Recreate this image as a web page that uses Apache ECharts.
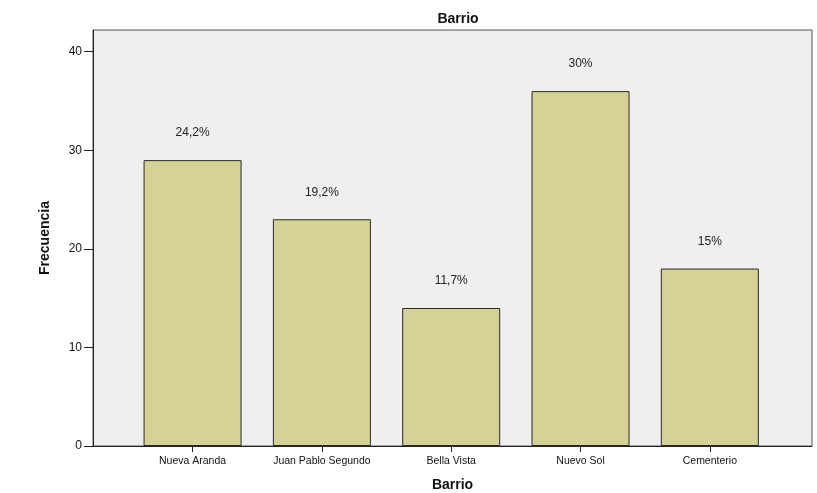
<!DOCTYPE html>
<html>
<head>
<meta charset="utf-8">
<script src="https://cdn.jsdelivr.net/npm/echarts@6/dist/echarts.min.js"></script>
<style>
  html, body { margin: 0; padding: 0; background: #ffffff; }
  #chart { width: 817px; height: 493px; }
</style>
</head>
<body>
<div id="chart"></div>
<script>
// Frequency of respondents per neighbourhood
const categories = ['Nueva Aranda', 'Juan Pablo Segundo', 'Bella Vista', 'Nuevo Sol', 'Cementerio'];
const frecuencias = [29, 23, 14, 36, 18];
const yTicks = [0, 10, 20, 30, 40];
const xTicks = [0, 1, 2, 3, 4];

const total = frecuencias.reduce((a, b) => a + b, 0);
function pct(v) {
  let s = (v / total * 100).toFixed(1);
  if (s.endsWith('.0')) s = s.slice(0, -2);
  return s.replace('.', ',') + '%';
}

const font = '"Liberation Sans", Arial, sans-serif';
const chart = echarts.init(document.getElementById('chart'), null, { renderer: 'canvas' });

chart.setOption({
  animation: false,
  backgroundColor: '#ffffff',
  title: {
    text: 'Barrio',
    left: 453, top: 7, textAlign: 'center',
    textStyle: { fontFamily: font, fontSize: 14, fontWeight: 'bold', color: '#111' }
  },
  grid: {
    left: 93, right: 5, top: 30, bottom: 47,
    outerBoundsMode: 'none',
    show: true, backgroundColor: '#efefef', borderColor: '#555', borderWidth: 1
  },
  xAxis: {
    type: 'value',
    min: -0.77, max: 4.79,
    name: 'Barrio', nameLocation: 'middle', nameGap: 32,
    nameTextStyle: { fontFamily: font, fontSize: 14, fontWeight: 'bold', color: '#111' },
    axisLine: { show: true, onZero: false, lineStyle: { color: '#222', width: 1 } },
    axisTick: { show: true, length: 6, customValues: xTicks, lineStyle: { color: '#222' } },
    axisLabel: {
      customValues: xTicks, margin: 10,
      fontFamily: font, fontSize: 10.5, color: '#111',
      formatter: v => categories[Math.round(v)] || ''
    },
    splitLine: { show: false }
  },
  yAxis: {
    type: 'value',
    min: 0, max: 42.2,
    name: 'Frecuencia', nameLocation: 'middle', nameGap: 41, nameRotate: 90,
    nameTextStyle: { fontFamily: font, fontSize: 14, fontWeight: 'bold', color: '#111' },
    axisLine: { show: true, onZero: false, lineStyle: { color: '#222', width: 1 } },
    axisTick: { show: true, length: 9, customValues: yTicks, lineStyle: { color: '#222' } },
    axisLabel: { customValues: yTicks, margin: 11, fontFamily: font, fontSize: 12, color: '#111' },
    splitLine: { show: false }
  },
  series: [{
    type: 'bar',
    data: frecuencias.map((v, i) => [i, v]),
    barWidth: 98,
    itemStyle: { color: '#d5d296', borderColor: '#2a2a2a', borderWidth: 1 },
    label: {
      show: true, position: 'top', distance: 21,
      fontFamily: font, fontSize: 12, color: '#222',
      formatter: p => pct(p.value[1])
    }
  }]
});
</script>
</body>
</html>
